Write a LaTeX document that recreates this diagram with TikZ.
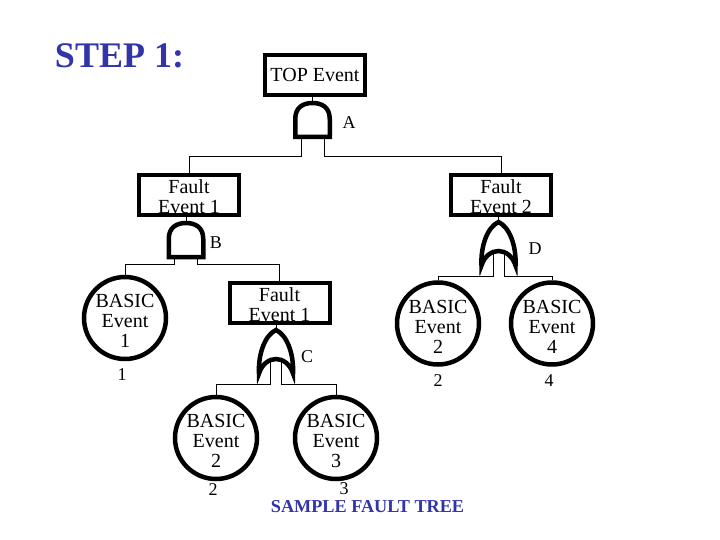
\documentclass[tikz,border=0pt]{standalone}
\usepackage{fontspec}
\setmainfont{Liberation Serif}
\definecolor{titleblue}{RGB}{51,51,170}
\newcommand{\boxdrop}{\rule{0pt}{17.5pt}}
\newcommand{\circdrop}{\rule{0pt}{19.5pt}}
\tikzset{
  eventbox/.style={draw,line width=4pt,minimum width=100pt,minimum height=40pt,inner sep=0pt,align=center,font=\fontsize{20}{20}\selectfont},
  basicevent/.style={draw,circle,line width=4.5pt,minimum size=82pt,inner sep=-4pt,align=center,font=\fontsize{20}{20}\selectfont},
  tag/.style={inner sep=0pt,font=\fontsize{18}{20}\selectfont},
  andgate/.pic={
    \draw[line width=4.5pt] (-17.25,36) -- (-17.25,18) .. controls (-17.25,6) and (-9,2) .. (0,2) .. controls (9,2) and (17.25,6) .. (17.25,18) -- (17.25,36) -- cycle;
    \coordinate (-t) at (0,0);
    \coordinate (-l) at (-11.5,38);
    \coordinate (-r) at (11.5,38);
  },
  orgate/.pic={
    \draw[line width=4.5pt,miter limit=10] (0,2) .. controls (-11,7) and (-18,26) .. (-17,45.5) .. controls (-14,36) and (-7,31) .. (0,31) .. controls (7,31) and (14,36) .. (17,45.5) .. controls (18,26) and (11,7) .. (0,2) -- cycle;
    \coordinate (-t) at (0,0);
    \coordinate (-l) at (-5.5,33);
    \coordinate (-r) at (5.5,33);
  }
}
\begin{document}
\begin{tikzpicture}[x=1pt,y=-1pt]
  \useasboundingbox (0,0) rectangle (720,540);
  \node[text=titleblue,inner sep=0pt,font=\fontsize{36}{40}\selectfont\bfseries] (title) at (119.5,56) {STEP 1:};
  \node[text=titleblue,inner sep=0pt,font=\fontsize{18.2}{20}\selectfont\bfseries] (caption) at (367.5,507) {SAMPLE FAULT TREE};

  % events
  \node[eventbox] (top) at (315,75) {TOP Event};
  \node[eventbox] (fe1) at (189,195) {\boxdrop Fault\\Event 1};
  \node[eventbox] (fe2) at (501,195) {\boxdrop Fault\\Event 2};
  \node[eventbox] (fe3) at (279.5,303) {\boxdrop Fault\\Event 1};
  \node[basicevent] (be1) at (125,318) {\circdrop BASIC\\Event\\1};
  \node[basicevent] (be2) at (438,323.5) {\circdrop BASIC\\Event\\2};
  \node[basicevent] (be4) at (552,323.5) {\circdrop BASIC\\Event\\4};
  \node[basicevent] (be5) at (216,438) {\circdrop BASIC\\Event\\2};
  \node[basicevent] (be3) at (336,438) {\circdrop BASIC\\Event\\3};

  % gates
  \pic (gA) at (312.5,101) {andgate};
  \pic (gB) at (186,221) {andgate};
  \pic (gD) at (498.5,220) {orgate};
  \pic (gC) at (276,328) {orgate};

  \node[tag] (tagA) at (349,123) {A};
  \node[tag] (tagB) at (216,243) {B};
  \node[tag] (tagC) at (307,357) {C};
  \node[tag] (tagD) at (535,249) {D};
  \node[tag] (num1) at (122,375) {1};
  \node[tag] (num2) at (438,381) {2};
  \node[tag] (num4) at (549,381) {4};
  \node[tag] (num5) at (213,490) {2};
  \node[tag] (num3) at (344,489) {3};

  % connectors
  \coordinate (busA) at (0,156);
  \coordinate (busB) at (0,264);
  \coordinate (busD) at (0,276);
  \coordinate (busC) at (0,384);
  \draw (gA-t |- top.south) -- (gA-t);
  \draw (gB-t |- fe1.south) -- (gB-t);
  \draw (gD-t |- fe2.south) -- (gD-t);
  \draw (gC-t |- fe3.south) -- (gC-t);
  \draw (gA-l) -- (gA-l |- busA) -| (fe1.north);
  \draw (gA-r) -- (gA-r |- busA) -| (fe2.north);
  \draw (gB-l) -- (gB-l |- busB) -| (be1.north);
  \draw (gB-r) -- (gB-r |- busB) -| (fe3.north);
  \draw (gD-l) -- (gD-l |- busD) -| (be2.north);
  \draw (gD-r) -- (gD-r |- busD) -| (be4.north);
  \draw (gC-l) -- (gC-l |- busC) -| (be5.north);
  \draw (gC-r) -- (gC-r |- busC) -| (be3.north);
\end{tikzpicture}
\end{document}
